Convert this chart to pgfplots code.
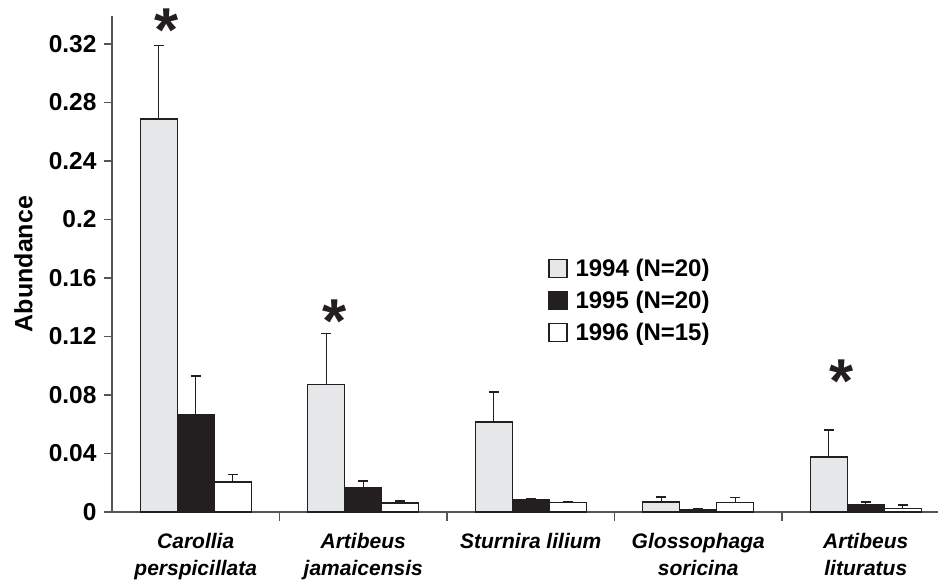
\documentclass[border=0pt]{standalone}
\usepackage{pgfplots}
\pgfplotsset{compat=1.18}
\usepackage{fontspec}
\setmainfont{Liberation Sans}
\definecolor{lgray}{HTML}{E6E7E8}
\definecolor{dblack}{HTML}{231F20}
\definecolor{axgray}{HTML}{555555}
\begin{document}
\begin{tikzpicture}
\begin{axis}[
  at={(0pt,0pt)}, anchor=south west,
  width=826pt, height=496pt, scale only axis, clip=false,
  xmin=-0.5, xmax=4.4313, ymin=0, ymax=0.339,
  axis x line*=bottom, axis y line*=left,
  axis line style={axgray, line width=1.5pt},
  ybar=0pt, bar width=37pt,
  xtick={0,1,2,3,4},
  xticklabels={{Carollia\\perspicillata},{Artibeus\\jamaicensis},{Sturnira lilium},{Glossophaga\\soricina},{Artibeus\\lituratus}},
  minor xtick={0.5,1.5,2.5,3.5},
  major x tick style={draw=none},
  minor x tick style={axgray, line width=1.5pt},
  minor tick length=9pt,
  xtick align=outside, ytick align=outside,
  ytick={0,0.04,0.08,0.12,0.16,0.2,0.24,0.28,0.32},
  yticklabels={0,0.04,0.08,0.12,0.16,0.2,0.24,0.28,0.32},
  major tick length=8pt,
  y tick style={axgray, line width=1.5pt},
  yticklabel style={font=\fontsize{24.5}{24.5}\selectfont\bfseries, xshift=-4pt},
  xticklabel style={align=center, font=\fontsize{21}{27}\selectfont\bfseries\itshape, anchor=north, yshift=-10pt},
  ylabel={Abundance},
  ylabel style={font=\fontsize{25}{25}\selectfont\bfseries, at={(axis description cs:-0.1071,0.5)}, anchor=center},
  legend style={at={(axis description cs:0.528,0.514)}, anchor=north west, draw=none, fill=none,
    font=\fontsize{24}{24}\selectfont\bfseries, row sep=9pt, inner sep=0pt,
    /tikz/every odd column/.style={column sep=6pt}},
  legend cell align=left,
  error bars/y dir=plus, error bars/y explicit,
  error bars/error mark=|,
  error bars/error bar style={dblack, line width=1.2pt},
  error bars/error mark options={dblack, line width=1.2pt, mark size=5pt},
]
\addplot[fill=lgray, draw=dblack, line width=1.4pt,
  legend image code/.code={\draw[fill=lgray, draw=dblack, line width=1.2pt] (0pt,-9pt) rectangle (18pt,9pt);}]
  coordinates {(0,0.2687) +- (0,0.0499) (1,0.0870) +- (0,0.0350) (2,0.0615) +- (0,0.0205) (3,0.0068) +- (0,0.0035) (4,0.0377) +- (0,0.0184)};
\addplot[fill=dblack, draw=dblack, line width=1.4pt,
  legend image code/.code={\draw[fill=dblack, draw=dblack, line width=1.2pt] (0pt,-9pt) rectangle (18pt,9pt);}]
  coordinates {(0,0.0668) +- (0,0.0262) (1,0.0169) +- (0,0.0043) (2,0.0084) +- (0,0.0009) (3,0.0016) +- (0,0.0007) (4,0.0053) +- (0,0.0015)};
\addplot[fill=white, draw=dblack, line width=1.4pt,
  legend image code/.code={\draw[fill=white, draw=dblack, line width=1.2pt] (0pt,-9pt) rectangle (18pt,9pt);}]
  coordinates {(0,0.0206) +- (0,0.0048) (1,0.0062) +- (0,0.0013) (2,0.0064) +- (0,0.0009) (3,0.0064) +- (0,0.0036) (4,0.0025) +- (0,0.0023)};
\legend{1994 (N=20),1995 (N=20),1996 (N=15)}
\node[anchor=base, inner sep=0pt, font=\fontsize{62}{62}\selectfont\bfseries, text=dblack] at (axis cs:-0.1716,0.3150) {*};
\node[anchor=base, inner sep=0pt, font=\fontsize{62}{62}\selectfont\bfseries, text=dblack] at (axis cs:0.8313,0.1160) {*};
\node[anchor=base, inner sep=0pt, font=\fontsize{62}{62}\selectfont\bfseries, text=dblack] at (axis cs:3.8564,0.0746) {*};
\end{axis}
\pgfresetboundingbox
\path (-112pt,-67pt) rectangle (828pt,512pt);
\end{tikzpicture}
\end{document}
